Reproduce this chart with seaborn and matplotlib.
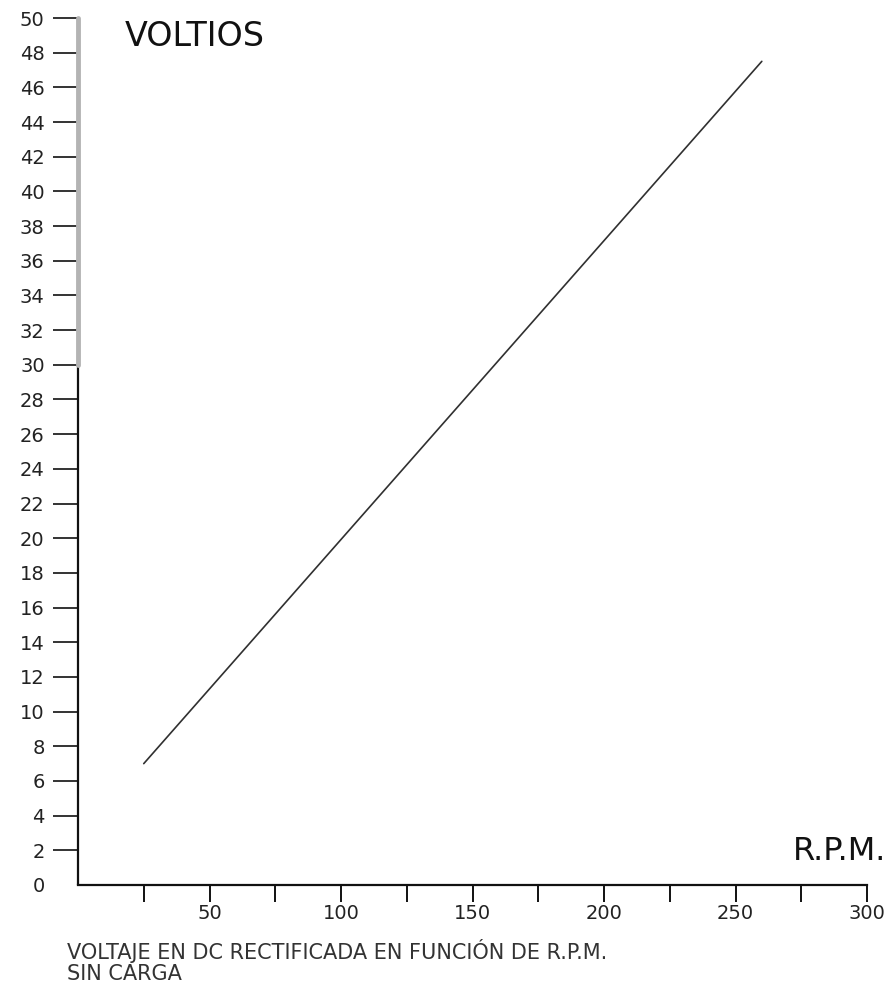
import pandas as pd
import numpy as np
import matplotlib
matplotlib.use("Agg")
import matplotlib.pyplot as plt
import seaborn as sns

# Data (straight line, no load)
rpm = [25, 260]
volts = [7.0, 47.5]
x_ticks = [25, 50, 75, 100, 125, 150, 175, 200, 225, 250, 275, 300]
x_labels = ["" if t % 50 else str(t) for t in x_ticks]
y_ticks = list(range(0, 52, 2))

sns.set_theme(style="ticks")
# wide sans font to get closer to the stretched lettering of the original
plt.rcParams['font.family'] = ['DejaVu Sans']

df = pd.DataFrame({"RPM": rpm, "Voltios": volts})

fig = plt.figure(figsize=(8.96, 9.89), dpi=100)
ax = fig.add_axes([78 / 896, 104 / 989, (867 - 78) / 896, (885 - 18) / 989])

sns.lineplot(data=df, x="RPM", y="Voltios", ax=ax, color="#303030", linewidth=1.2)

ax.set_xlim(0, 300)
ax.set_ylim(0, 50)
ax.set_xlabel("")
ax.set_ylabel("")

# axes: bottom spine black, left spine split (black below 30, grey above)
for s in ["top", "right", "left"]:
    ax.spines[s].set_visible(False)
ax.spines["bottom"].set_color("#111111")
ax.spines["bottom"].set_linewidth(1.6)
ax.axvline(0, ymin=0, ymax=0.6, color="#111111", lw=1.6, clip_on=False)
ax.axvline(0, ymin=0.6, ymax=1.0, color="#b4b4b4", lw=3.5, clip_on=False)

ax.set_xticks(x_ticks)
ax.set_xticklabels(x_labels)
ax.set_yticks(y_ticks)
ax.set_yticklabels([str(t) for t in y_ticks])
ax.tick_params(axis="x", direction="out", length=12, width=1.4, pad=2,
               labelsize=14, colors="#111111", labelcolor="#222222")
ax.tick_params(axis="y", direction="out", length=18, width=1.2, pad=6,
               labelsize=14, colors="#111111", labelcolor="#222222")
ax.yaxis.get_major_ticks()[0].tick1line.set_visible(False)

fig.text(125 / 896, 1 - 37 / 989, "VOLTIOS", fontsize=24, color="#111111",
         ha="left", va="center")
fig.text(886 / 896, 1 - 851 / 989, "R.P.M.", fontsize=23, color="#111111",
         ha="right", va="center")
fig.text(67 / 896, 1 - 939 / 989,
         "VOLTAJE EN DC RECTIFICADA EN FUNCIÓN DE R.P.M.\nSIN CARGA",
         fontsize=15, color="#333333", ha="left", va="top", linespacing=1.05)

fig.savefig("out.png", dpi=100)
